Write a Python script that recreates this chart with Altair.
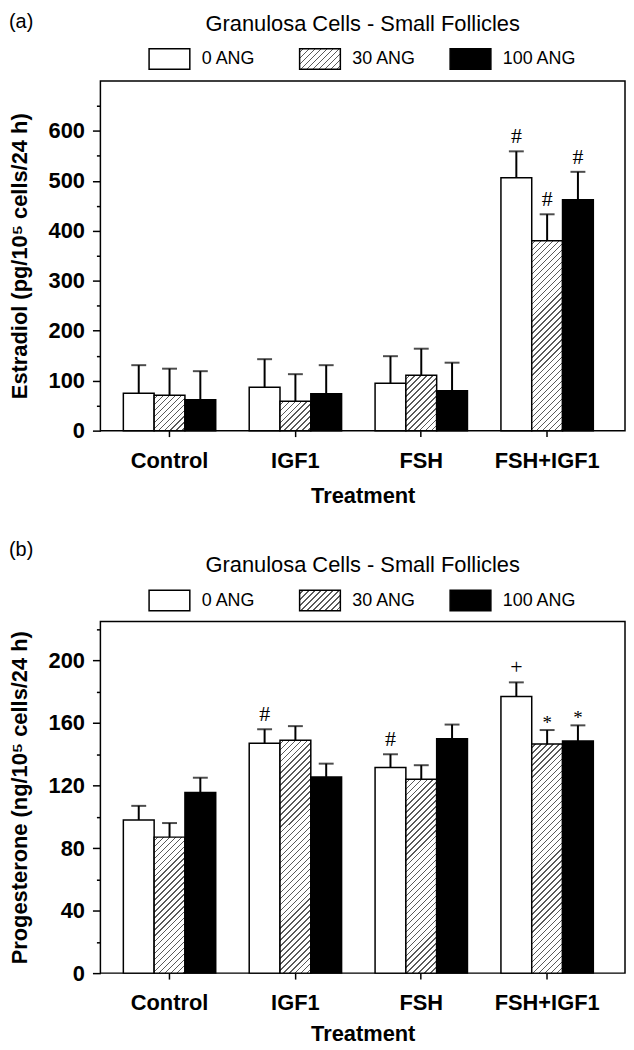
import altair as alt
import pandas as pd

# ---------------- data ----------------
treatments = ["Control", "IGF1", "FSH", "FSH+IGF1"]
doses = ["0 ANG", "30 ANG", "100 ANG"]

# (a) Estradiol (pg/10^5 cells/24 h) -- means and SEM per treatment
e2_mean_0 = [75, 87, 95, 506]
e2_mean_30 = [71, 59, 111, 380]
e2_mean_100 = [62, 74, 80, 462]
e2_sem_0 = [56, 56, 54, 53]
e2_sem_30 = [53, 54, 53, 53]
e2_sem_100 = [57, 57, 56, 56]
e2_sig_0 = ["", "", "", "#"]
e2_sig_30 = ["", "", "", "#"]
e2_sig_100 = ["", "", "", "#"]

# (b) Progesterone (ng/10^5 cells/24 h)
p4_mean_0 = [98, 147, 131.5, 177]
p4_mean_30 = [87, 149, 124, 146.5]
p4_mean_100 = [115.5, 125.5, 150, 148.5]
p4_sem_0 = [9, 9, 8.5, 9]
p4_sem_30 = [9, 9, 9, 9]
p4_sem_100 = [9.5, 8.5, 9, 10]
p4_sig_0 = ["", "#", "#", "+"]
p4_sig_30 = ["", "", "", "*"]
p4_sig_100 = ["", "", "", "*"]

title_text = "Granulosa Cells - Small Follicles"

# ---------------- style / layout ----------------
FONT = "Liberation Sans"
SERIF = "Liberation Serif"
W = 528
PAD_IN, PAD_OUT, ALIGN = 0.266, 0.217, 0.42
STEP = W / (4 - PAD_IN + 2 * PAD_OUT)
BAR_W = STEP * (1 - PAD_IN) / 3


def hatch(w, h, period=6.0, lw=1.4, color="#5a5a5a"):
    """Diagonal /// hatching as a linear gradient in the bar's bounding box."""
    L = w + h
    k = L / (w * w + h * h)
    stops = [{"offset": 0, "color": "white"}]
    pos = period / 2
    while pos < L:
        s = round(pos / L, 5)
        e = round(min((pos + lw) / L, 1.0), 5)
        stops += [
            {"offset": s, "color": "white"},
            {"offset": s, "color": color},
            {"offset": e, "color": color},
            {"offset": e, "color": "white"},
        ]
        pos += period
    stops.append({"offset": 1, "color": "white"})
    return {"gradient": "linear", "x1": 0, "y1": 0,
            "x2": round(k * w, 6), "y2": round(k * h, 6), "stops": stops}


def table(means, sems, sigs):
    rows = []
    for d, m, s, g in zip(doses, means, sems, sigs):
        for t, mv, sv, gv in zip(treatments, m, s, g):
            rows.append({"Treatment": t, "Dose": d, "Value": mv,
                         "Upper": mv + sv, "Sig": gv})
    return pd.DataFrame(rows)


def legend_chart(tag, height, box_y, title_y, tag_y):
    leg = pd.DataFrame({"Dose": doses})
    xenc = alt.X("Dose:N", sort=doses, axis=None,
                 scale=alt.Scale(type="point", range=[49, 352], padding=0))
    fill = alt.FillValue(
        "white",
        condition=[
            {"test": "datum.Dose === '30 ANG'", "value": hatch(41, 20.5)},
            {"test": "datum.Dose === '100 ANG'", "value": "black"},
        ],
    )
    boxes = alt.Chart(leg).mark_point(
        shape="M0,-0.5L2,-0.5L2,0.5L0,0.5Z", size=1681, filled=True,
        stroke="black", strokeWidth=1.5, opacity=1,
    ).encode(x=xenc, y=alt.value(box_y), fill=fill)
    labels = alt.Chart(leg).mark_text(
        align="left", baseline="middle", dx=53, font=FONT, fontSize=18,
        color="black",
    ).encode(x=xenc, y=alt.value(box_y), text="Dose:N")
    ttl = alt.Chart(pd.DataFrame({"t": [title_text]})).mark_text(
        align="center", baseline="middle", font=FONT, fontSize=22,
        color="black",
    ).encode(x=alt.value(W / 2), y=alt.value(title_y), text="t:N")
    lab = alt.Chart(pd.DataFrame({"t": [tag]})).mark_text(
        align="left", baseline="middle", font=FONT, fontSize=20,
        color="black",
    ).encode(x=alt.value(-92), y=alt.value(tag_y), text="t:N")
    return alt.layer(ttl, lab, boxes, labels).properties(
        width=W, height=height,
        view=alt.ViewBackground(stroke="transparent"),
    )


def plot_chart(df, H, dmax, major, minor, label_max, ytitle, treat_y):
    px = H / dmax
    conds = []
    for t in treatments:
        v = float(df[(df.Treatment == t) & (df.Dose == "30 ANG")].Value.iloc[0])
        conds.append({
            "test": f"datum.Treatment === '{t}' && datum.Dose === '30 ANG'",
            "value": hatch(BAR_W, v * px),
        })
    conds.append({"test": "datum.Dose === '100 ANG'", "value": "black"})
    fill = alt.FillValue("white", condition=conds)

    ticks = list(range(0, dmax, minor))
    xaxis = alt.Axis(
        title="Treatment", labelAngle=0, labelFont=FONT, labelFontSize=22,
        labelFontWeight="bold", labelColor="black", labelPadding=14,
        tickSize=6, tickWidth=1.5, tickColor="black", domain=False,
        grid=False, titleFont=FONT, titleFontSize=22,
        titleFontWeight="bold", titleColor="black", titleY=treat_y,
        titleBaseline="middle",
    )
    xscale = alt.Scale(paddingInner=PAD_IN, paddingOuter=PAD_OUT, align=ALIGN)
    xenc = alt.X("Treatment:N", sort=treatments, scale=xscale, axis=xaxis)
    xoff = alt.XOffset("Dose:N", sort=doses)
    yaxis = alt.Axis(
        title=ytitle, values=ticks,
        labelExpr=(f"(datum.value % {major} === 0 && datum.value <= {label_max})"
                   " ? datum.label : ''"),
        labelOverlap=False, labelFlush=False,
        tickSize={"condition": {"test": f"datum.value % {major} === 0",
                                "value": 8}, "value": 4},
        tickWidth=1.5, tickColor="black", labelFont=FONT, labelFontSize=22,
        labelFontWeight="bold", labelColor="black", labelPadding=8,
        domain=False, grid=False, titleFont=FONT, titleFontSize=22,
        titleFontWeight="bold", titleColor="black", titleAngle=270,
        titleX=-81, titleY=H / 2, titleAlign="center", titleBaseline="middle",
    )
    yscale = alt.Scale(domain=[0, dmax], nice=False, zero=True)
    yval = alt.Y("Value:Q", scale=yscale, axis=yaxis)
    yup = alt.Y("Upper:Q", scale=yscale, axis=yaxis)

    base = alt.Chart(df)
    bars = base.mark_bar(stroke="black", strokeWidth=1.5).encode(
        x=xenc, xOffset=xoff, y=yval, fill=fill)
    err = base.mark_rule(color="black", strokeWidth=2).encode(
        x=xenc, xOffset=xoff, y=yval, y2="Upper:Q")
    cap = base.mark_tick(color="black", size=15, thickness=2).encode(
        x=xenc, xOffset=xoff, y=yup)
    sig1 = base.transform_filter(
        "datum.Sig !== '' && datum.Sig !== '*'").mark_text(
        font=SERIF, fontSize=22, baseline="middle", dy=-15, color="black"
    ).encode(x=xenc, xOffset=xoff, y=yup, text="Sig:N")
    sig2 = base.transform_filter("datum.Sig === '*'").mark_text(
        font=SERIF, fontSize=19, baseline="middle", dy=-7, color="black"
    ).encode(x=xenc, xOffset=xoff, y=yup, text="Sig:N")
    return alt.layer(bars, err, cap, sig1, sig2).properties(
        width=W, height=H,
        view=alt.ViewBackground(stroke="black", strokeWidth=1.5),
    )


df_a = table([e2_mean_0, e2_mean_30, e2_mean_100],
             [e2_sem_0, e2_sem_30, e2_sem_100],
             [e2_sig_0, e2_sig_30, e2_sig_100])
df_b = table([p4_mean_0, p4_mean_30, p4_mean_100],
             [p4_sem_0, p4_sem_30, p4_sem_100],
             [p4_sig_0, p4_sig_30, p4_sig_100])

leg_a = legend_chart("(a)", 22, 10, -25, -27)
plot_a = plot_chart(df_a, 352, 700, 100, 50, 600,
                    "Estradiol (pg/10\u2075 cells/24 h)", 65)
leg_b = legend_chart("(b)", 172, 161, 125, 110)
plot_b = plot_chart(df_b, 354, 225, 40, 20, 200,
                    "Progesterone (ng/10\u2075 cells/24 h)", 61)

chart = alt.vconcat(leg_a, plot_a, leg_b, plot_b, spacing=10,
                    bounds="flush").resolve_scale(
    x="independent", y="independent").properties(padding=0)

chart.save("out.html", embed_options={"renderer": "svg", "actions": False})
